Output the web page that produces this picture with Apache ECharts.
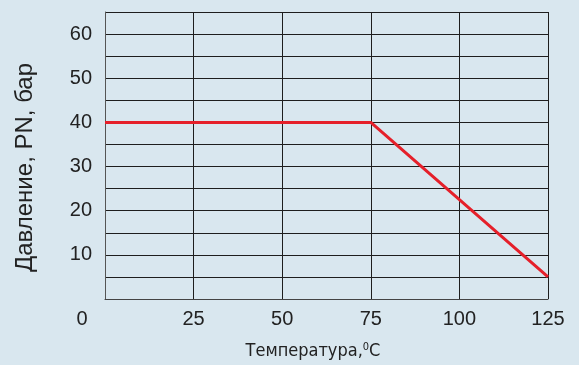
<!DOCTYPE html>
<html>
<head>
<meta charset="utf-8">
<script src="https://cdn.jsdelivr.net/npm/echarts@6/dist/echarts.min.js"></script>
<style>
  html, body { margin: 0; padding: 0; background: #d9e7ef; }
  #chart { width: 579px; height: 365px; }
</style>
</head>
<body>
<div id="chart"></div>
<script>
// Pressure rating vs. temperature
const temperatures = [0, 75, 125];
const pressures = [40, 40, 5];
const xTicks = [0, 25, 50, 75, 100, 125];
const yTicks = [10, 20, 30, 40, 50, 60];

const xTitle = 'Температура,';
const yTitle = 'Давление, PN, бар';

const chart = echarts.init(document.getElementById('chart'), null, { renderer: 'canvas' });

const labelFont = { fontFamily: 'Liberation Sans, Arial, sans-serif', fontSize: 20, color: '#222' };
const narrow = '"Liberation Sans Narrow", "DejaVu Sans Condensed", sans-serif';

chart.setOption({
  backgroundColor: '#d9e7ef',
  animation: false,
  grid: { left: 105, right: 31, top: 12, bottom: 61 },
  xAxis: {
    type: 'value',
    min: 0,
    max: 125,
    interval: 25,
    axisLine: { show: true, lineStyle: { color: '#444', width: 1 } },
    axisTick: { show: false },
    splitLine: { show: true, lineStyle: { color: '#1e1e1e', width: 1 } },
    axisLabel: Object.assign({}, labelFont, {
      margin: 10,
      formatter: v => {
        if (!xTicks.includes(v)) return '';
        return v === 0 ? '{zero|0}' : String(v);
      },
      rich: {
        zero: Object.assign({}, labelFont, { padding: [0, 46, 0, 0] })
      }
    }),
    name: xTitle + '{sup|0}{c|C}',
    nameLocation: 'middle',
    nameGap: 43,
    nameTextStyle: {
      fontFamily: narrow,
      fontSize: 18,
      color: '#222',
      padding: [0, 27, 0, 0],
      rich: {
        sup: { fontFamily: narrow, fontSize: 11, color: '#222', verticalAlign: 'top', padding: [0, 0, 7, 0] },
        c: { fontFamily: narrow, fontSize: 18, color: '#222' }
      }
    }
  },
  yAxis: {
    type: 'value',
    min: 0,
    max: 65,
    interval: 5,
    axisLine: { show: true, lineStyle: { color: '#555', width: 1 } },
    axisTick: { show: false },
    splitLine: { show: true, lineStyle: { color: '#1e1e1e', width: 1 } },
    axisLabel: Object.assign({}, labelFont, {
      margin: 13,
      formatter: v => (yTicks.includes(v) ? String(v) : '')
    }),
    name: yTitle,
    nameLocation: 'middle',
    nameGap: 68,
    nameTextStyle: {
      fontFamily: 'Liberation Sans, Arial, sans-serif',
      fontSize: 24,
      color: '#222',
      padding: [0, 24, 0, 0]
    }
  },
  series: [{
    type: 'line',
    data: temperatures.map((t, i) => [t, pressures[i]]),
    symbol: 'none',
    lineStyle: { color: '#e5202a', width: 3 },
    z: 5
  }]
});
</script>
</body>
</html>
